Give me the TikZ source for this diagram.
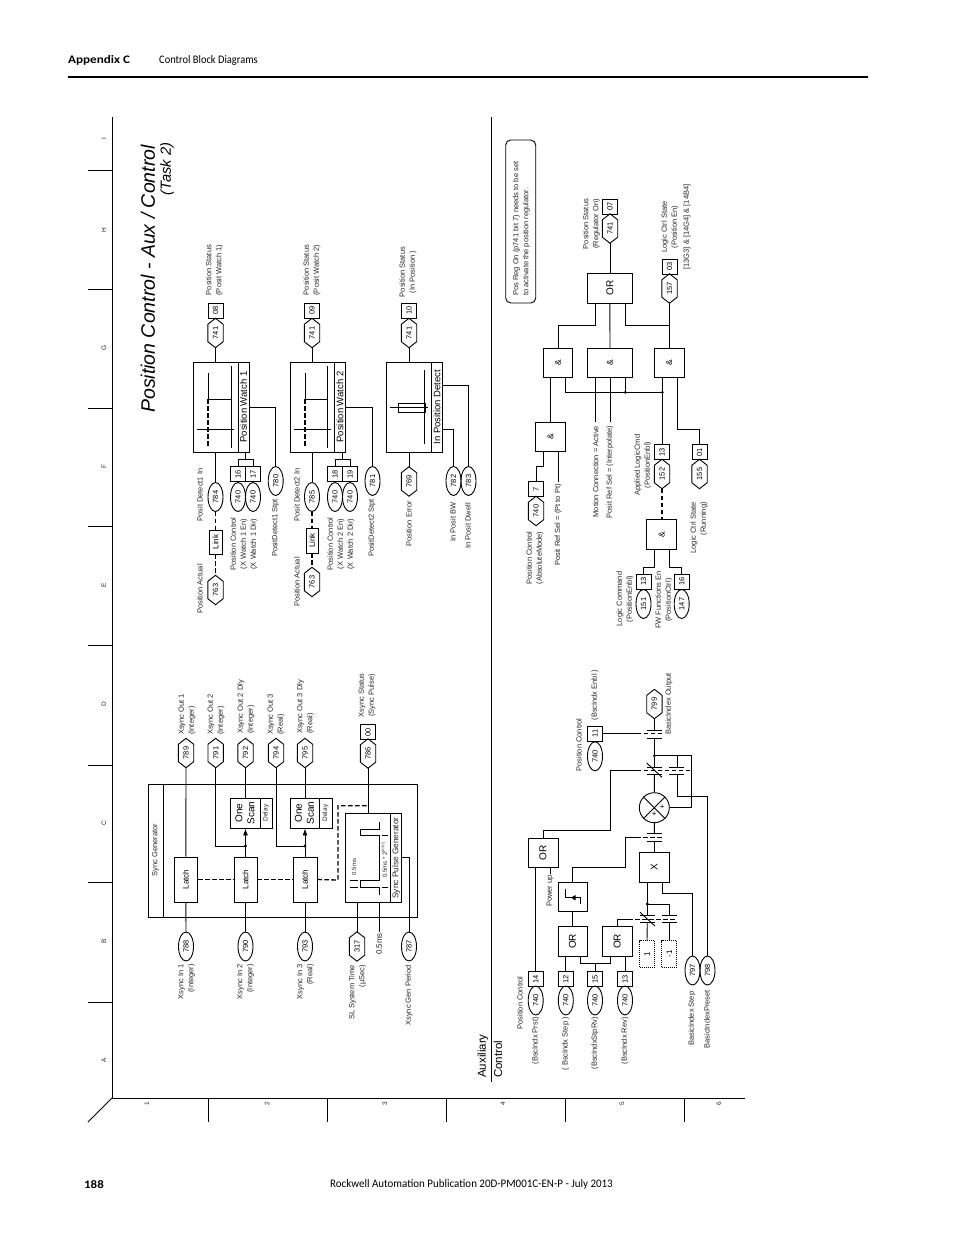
\documentclass[tikz,border=0pt]{standalone}
\usepackage{fontspec}
\usepackage{graphicx}
\setmainfont{Liberation Sans}
\newfontfamily\hdr{Carlito}
\usetikzlibrary{shapes.geometric,arrows.meta,calc}
\newcounter{labc}
\newcommand\fsz[2]{\fontsize{#1}{#2}\selectfont}
\tikzset{
  ln/.style={line width=0.9pt,line cap=butt,line join=miter},
  dashln/.style={line width=1.3pt,dash pattern=on 4.5pt off 2.5pt},
  frameln/.style={line width=1pt},
  sqbox/.style={draw,line width=0.9pt,rectangle,minimum width=15pt,minimum height=15pt,inner sep=0pt,font=\fsz{7.5}{9}},
  elbox/.style={draw,line width=0.9pt,ellipse,minimum width=15pt,minimum height=29pt,inner sep=0pt,font=\fsz{7.5}{9}},
  hexbox/.style={rectangle,minimum width=15pt,minimum height=29pt,inner sep=0pt,font=\fsz{7.5}{9}},
  blk/.style={draw,line width=0.9pt,rectangle,inner sep=0pt},
  dotbox/.style={draw,line width=1pt,rectangle,densely dotted,inner sep=0pt,minimum width=15pt,minimum height=26.5pt,font=\fsz{8}{9}},
  lbl/.style={rotate=90,align=center,inner sep=0pt,font=\fsz{7.5}{10},text=black!85},
  lblL/.style={align=left,anchor=west},
  lblR/.style={align=right,anchor=east},
  headtxt/.style={inner sep=0pt,anchor=west},
}
\newcommand\sq[3]{\node[sqbox](#1) at (#2) {\rotatebox{90}{#3}};}
\newcommand\el[3]{\node[elbox](#1) at (#2) {\rotatebox{90}{#3}};}
\newcommand\hx[3]{\node[hexbox](#1) at (#2) {\rotatebox{90}{#3}};
  \draw[ln] (#1.north) -- ([yshift=-6pt]#1.north east) -- ([yshift=6pt]#1.south east) -- (#1.south) -- ([yshift=6pt]#1.south west) -- ([yshift=-6pt]#1.north west) -- cycle;}
\newcommand\lab[3][]{\stepcounter{labc}\node[lbl,#1](L\arabic{labc}) at (#2) {#3};}
% name, x0, y0, x1, y1, font, text
\newcommand\bx[7]{\node[blk,minimum width=#4pt-#2pt,minimum height=#5pt-#3pt,font=\fsz{#6}{#6}](#1) at ({(#2+#4)/2},{(#3+#5)/2}) {\rotatebox{90}{#7}};}
\begin{document}
\begin{tikzpicture}[x=1pt,y=-1pt]
\useasboundingbox (0,0) rectangle (954,1235);
% page header / footer
\node[headtxt,font=\hdr\bfseries\fsz{11.5}{13}](h1) at (68,60.5) {\scalebox{1.14}[1]{Appendix C}};
\node[headtxt,font=\hdr\fsz{11.5}{13}](h2) at (159,60.5) {\scalebox{0.91}[1]{Control Block Diagrams}};
\coordinate (rl) at (68,77); \coordinate (rr) at (868,77);
\draw[line width=1.8pt] (rl) -- (rr);
\node[headtxt,font=\hdr\bfseries\fsz{11.5}{13}](f1) at (84,1184.5) {\scalebox{1.12}[1]{188}};
\node[headtxt,font=\hdr\fsz{11.5}{13}](f2) at (330,1184.5) {\scalebox{0.953}[1]{Rockwell Automation Publication 20D-PM001C-EN-P - July 2013}};
% frame
\coordinate (ftl) at (112,117); \coordinate (fbl) at (112,1098); \coordinate (fbr) at (745,1098);
\coordinate (dt) at (491.7,117); \coordinate (db) at (491.7,1082);
\draw[frameln] (ftl) -- (fbl) -- (fbr);
\draw[frameln] (dt) -- (db);
\foreach \yy in {170,289,408,526,645,765,882,1002} \draw[frameln] (88,\yy) -- (112,\yy);
\foreach \xx in {208,327,446,565,684} \draw[frameln] (\xx,1098) -- (\xx,1122);
\draw[frameln] (fbl) -- (88,1122);
\foreach \yy/\tx in {139/I,230/H,348/G,467/F,585/E,704/D,823/C,941/B,1060/A} {\lab[font=\fsz{6.5}{7}]{104,\yy}{\tx}}
\foreach \xx/\tx in {147/1,267/2,385/3,503/4,622/5,719/6} {\lab[font=\fsz{6.5}{7}]{\xx,1104}{\tx}}
% titles
\lab[font=\itshape\fsz{19.5}{22},text=black,lblL]{148,413}{Position Control - Aux / Control}
\lab[font=\itshape\fsz{14.7}{16},text=black]{167,169}{(Task 2)}
\lab[lblL,font=\fsz{11.5}{15},text=black]{483,1078}{Auxiliary}
\lab[lblL,font=\fsz{11.5}{15},text=black]{498,1078}{Control}

% ---------- Position Watch 1
\bx{pwa}{193}{362}{249}{452}{9}{}
\coordinate (pwad1) at (238,362); \coordinate (pwad2) at (238,452);
\draw[ln] (pwad1) -- (pwad2);
\lab[font=\fsz{9.5}{11},text=black]{243.5,407}{Position Watch 1}
\draw[ln] (208,373) -- (208,399) -- (231,399);
\draw[dashln] (208,399) -- (208,448);
\draw[ln] (231,366) -- (231,448);
\draw[ln] (197,429) -- (234,429);
\hx{hxa}{215.5,333}{741}
\sq{sa}{215.5,310.5}{08}
\draw[ln] (pwa.north -| hxa) -- (hxa.south);
\lab{214.5,270}{Position Status\\(Posit Watch 1)}
\el{e784}{215.5,497}{784}
\draw[ln] (pwa.south -| e784) -- (e784.north);
\bx{linka}{209}{530}{222}{554}{8}{Link}
\draw[dashln] (e784.south) -- (linka.north);
\hx{h763a}{215.5,590}{763}
\draw[dashln] (linka.south) -- (h763a.north);
\lab{200,495}{Posit Detect1 In}
\lab{200,589}{Position Actual}
\sq{s16}{238,474}{16} \sq{s17}{253,474}{17}
\el{e740a}{238,497}{740} \el{e740b}{253,497}{740}
\coordinate (bka) at (245.5,459.3);
\draw[ln] (pwa.south -| bka) -- (bka);
\draw[ln] (s16.north) |- (bka) -| (s17.north);
\lab{244,544}{Position Control\\(X Watch 1 En)\\(X Watch 1 Dir)}
\el{e780}{275.7,481}{780}
\draw[ln] (e780.north) |- (pwa.east |- 0,407);
\lab{275.5,528}{PositDetect1 Stpt}

% ---------- Position Watch 2
\bx{pwb}{290.5}{362}{345.7}{452}{9}{}
\coordinate (pwbd1) at (334.5,362); \coordinate (pwbd2) at (334.5,452);
\draw[ln] (pwbd1) -- (pwbd2);
\lab[font=\fsz{9.5}{11},text=black]{340,407}{Position Watch 2}
\draw[ln] (305,373) -- (305,399) -- (327.5,399);
\draw[dashln] (305,399) -- (305,448);
\draw[ln] (327.5,366) -- (327.5,448);
\draw[ln] (294,429) -- (331,429);
\hx{hxb}{312,333}{741}
\sq{sb}{312,310.5}{09}
\draw[ln] (pwb.north -| hxb) -- (hxb.south);
\lab{312,270}{Position Status\\(Posit Watch 2)}
\el{e785}{312,497}{785}
\draw[ln] (pwb.south -| e785) -- (e785.north);
\bx{linkb}{306}{528}{318}{553}{8}{Link}
\draw[dashln] (e785.south) -- (linkb.north);
\hx{h763b}{312,582}{763}
\draw[dashln] (linkb.south) -- (h763b.north);
\lab{297,495}{Posit Detect2 In}
\lab{297,582}{Position Actual}
\sq{s18}{335,474}{18} \sq{s19}{350,474}{19}
\el{e740c}{335,497}{740} \el{e740d}{350,497}{740}
\coordinate (bkb) at (342.5,459.3);
\draw[ln] (pwb.south -| bkb) -- (bkb);
\draw[ln] (s18.north) |- (bkb) -| (s19.north);
\lab{341,544}{Position Control\\(X Watch 2 En)\\(X Watch 2 Dir)}
\el{e781}{372.5,481}{781}
\draw[ln] (e781.north) |- (pwb.east |- 0,407);
\lab{372,528}{PositDetect2 Stpt}

% ---------- In Position Detect
\bx{ipd}{386.7}{362}{442.3}{452}{9}{}
\coordinate (ipdd1) at (431.7,362); \coordinate (ipdd2) at (431.7,452);
\draw[ln] (ipdd1) -- (ipdd2);
\lab[font=\fsz{9.5}{11},text=black]{437,407}{In Position Detect}
\draw[ln] (424,370) -- (424,444);
\draw[ln] (398,403) rectangle (425,412);
\draw[ln] (390,407) -- (428,407);
\hx{hxc}{409,333}{741}
\sq{sc}{409,310.5}{10}
\draw[ln] (ipd.north -| hxc) -- (hxc.south);
\lab{408,272}{Position Status\\(In Position )}
\hx{h769}{409,481.5}{769}
\draw[ln] (ipd.south -| h769) -- (h769.north);
\el{e782}{453.5,481}{782} \el{e783}{468.5,481}{783}
\draw[ln] (e783.north) |- (ipd.east |- 0,385);
\draw[ln] (e782.north) |- (ipd.east |- 0,429);
\lab{409,524}{Position Error}
\lab{453,522}{In Posit BW}
\lab{468,526}{In Posit Dwell}

% ---------- Sync Generator
\bx{sg}{148}{784}{417}{917}{8}{}
\coordinate (sgd1) at (163,784); \coordinate (sgd2) at (163,917);
\draw[ln] (sgd1) -- (sgd2);
\lab{155.5,850}{Sync Generator}
\hx{h789}{186,753}{789} \hx{h791}{215.7,753}{791} \hx{h792}{245.5,753}{792}
\hx{h794}{276,753}{794} \hx{h795}{305,753}{795} \hx{h786}{368,753.5}{786}
\sq{s00}{368,732}{00}
\bx{l1}{174}{857}{197.7}{902}{8}{Latch}
\bx{l2}{234}{857}{257}{902}{8}{Latch}
\bx{l3}{293}{857}{317}{902}{8}{Latch}
\el{e788}{186,946.5}{788} \el{e790}{245.5,946.5}{790} \el{e793}{305,946.5}{793}
\draw[ln] (h789.south) -- (l1.north);
\draw[ln] (l1.south) -- (e788.north);
\draw[ln] (l2.south) -- (e790.north);
\draw[ln] (l3.south) -- (e793.north);
\bx{osa}{230}{798}{272}{828}{8}{}
\bx{osb}{290}{798}{332}{828}{8}{}
\coordinate (osa1) at (260,798); \coordinate (osa2) at (260,828);
\coordinate (osb1) at (319,798); \coordinate (osb2) at (319,828);
\draw[ln] (osa1) -- (osa2); \draw[ln] (osb1) -- (osb2);
\lab[font=\fsz{10}{12},text=black]{245,813}{One\\Scan}
\lab[font=\fsz{10}{12},text=black]{304.5,813}{One\\Scan}
\lab[font=\fsz{6.5}{7}]{266,813}{Delay}
\lab[font=\fsz{6.5}{7}]{325.5,813}{Delay}
\draw[ln] (h792.south) -- (h792.south |- osa.north);
\draw[ln] (h795.south) -- (h795.south |- osb.north);
\coordinate (ja) at (245.5,846); \coordinate (jb) at (305,846);
\draw[ln,-{Latex[length=7pt,width=5pt]}] (l2.north) -- (l2.north |- osa.south);
\draw[ln,-{Latex[length=7pt,width=5pt]}] (l3.north) -- (l3.north |- osb.south);
\draw[ln] (h791.south) |- (ja);
\draw[ln] (h794.south) |- (jb);
\fill (ja) circle (1.6pt); \fill (jb) circle (1.6pt);
\coordinate (d1) at (338,880); \coordinate (d2) at (338,805.7); \coordinate (d3) at (368,805.7);
\draw[dashln] (l1.east) -- (l2.west);
\draw[dashln] (l2.east) -- (l3.west);
\draw[dashln] (l3.east) -- (d1) -- (d2) -- (d3);
\bx{spg}{345.7}{813}{401.7}{902}{8}{}
\coordinate (spg1) at (390.7,813); \coordinate (spg2) at (390.7,902);
\draw[ln] (spg1) -- (spg2);
\lab[font=\fsz{8.3}{10}]{396.2,858}{Sync Pulse Generator}
\draw[ln] (h786.south) -- (h786.south |- spg.north);
\draw[ln] (379,822) -- (379,829) -- (360,829) -- (360,835) -- (379,835) -- (379,880) -- (360,880) -- (360,887) -- (379,887) -- (379,895);
\draw[ln] (382,835) -- (388,835);
\draw[ln] (382,887) -- (388,887);
\draw[ln] (349.5,880.5) -- (358,880.5);
\draw[ln] (349.5,887) -- (358,887);
\lab[font=\fsz{6}{7}]{354,867}{0.5ms}
\lab[font=\fsz{6}{7}]{384.5,860}{0.5ms * 2\raisebox{2.5pt}{\fsz{3.5}{4}[P787]}}
\hx{h317}{357,946.5}{317}
\coordinate (hs1) at (379,902); \coordinate (hs2) at (379,932);
\draw[ln] (spg.south -| h317) -- (h317.north);
\draw[ln] (hs1) -- (hs2);
\lab[font=\fsz{8}{9}]{379,944}{0.5ms}
\el{e787}{409,946.5}{787}
\draw[ln] (e787.north) |- (spg.east |- 0,857);
% labels
\lab[lblL]{187,735}{Xsync Out 1\\(Integer)}
\lab[lblL]{216,735}{Xsync Out 2\\(Integer)}
\lab[lblL]{246,734}{Xsync Out 2 Dly\\(Integer)}
\lab[lblL]{276,735}{Xsync Out 3\\(Real)}
\lab[lblL]{305.5,734}{Xsync Out 3 Dly\\(Real)}
\lab{367,695.5}{Xsync Status\\(Sync Pulse)}
\lab[lblR]{186.5,964}{Xsync In 1\\(Integer)}
\lab[lblR]{245.5,964}{Xsync In 2\\(Integer)}
\lab[lblR]{305.5,964}{Xsync In 3\\(Real)}
\lab[lblR]{357.5,965}{SL System Time\\(µSec)}
\lab[lblR]{409,965}{Xsync Gen Period}

% ---------- Position regulator
\node[draw,line width=0.9pt,rounded corners=5pt,minimum width=30pt,minimum height=163pt,inner sep=0pt](note) at (520.7,221.5) {};
\lab[lblL]{521.5,296}{Pos Reg On  (p741 bit 7) needs to be set\\to activate the position regulator.}
\hx{h741r}{610,228.5}{741}
\sq{s07}{610,206.5}{07}
\bx{orb}{587}{273}{632.7}{303}{10}{OR}
\draw[ln] (h741r.south) -- (orb.north -| h741r);
\lab{591.5,224}{Position Status\\(Regulator On)}
\bx{and1}{543.3}{348.3}{572.7}{377.7}{8.5}{\&}
\bx{and2}{587.3}{348.3}{632.7}{377.7}{8.5}{\&}
\bx{and3}{654.3}{348.3}{684.3}{377.7}{8.5}{\&}
\hx{h157}{669.5,288.5}{157}
\sq{s03}{669.5,266.5}{03}
\lab{670,227}{Logic Ctrl State\\(Position En)}
\lab{687,227}{[13G3] \& [14G4] \& [14B4]}
\coordinate (ora) at (595.7,303); \coordinate (orb2) at (625.3,303);
\coordinate (orc) at (595.7,325); \coordinate (ord) at (625.3,325);
\coordinate (ore) at (558.3,325);
\draw[ln] (ora) -- (orc) -- (ore) -- (ore |- and1.north);
\draw[ln] (orb.south) -- (and2.north);
\draw[ln] (orb2) -- (ord) -- (ord -| h157);
\draw[ln] (h157.south) -- (h157.south |- and3.north);
\bx{and4}{535.7}{422.3}{565.3}{451.7}{8.5}{\&}
\coordinate (a1a) at (550.7,377.7); \coordinate (a1b) at (565.7,377.7);
\coordinate (a2a) at (595.7,377.7); \coordinate (a2c) at (625.3,377.7);
\coordinate (a3a) at (662.3,377.7); \coordinate (a3b) at (677,377.7);
\coordinate (ma) at (595.7,422); \coordinate (mb) at (610,422);
\draw[ln] (a1a) -- (a1a |- and4.north);
\draw[ln] (a2a) -- (ma);
\draw[ln] (and2.south) -- (mb);
\coordinate (j1) at (625.3,392.3); \coordinate (j2) at (662.3,392.3);
\draw[ln] (a1b) |- (j2);
\draw[ln] (a2c) -- (j1);
\fill (j1) circle (1.6pt); \fill (j2) circle (1.6pt);
\hx{h152}{662,474}{152}
\sq{s13a}{662,452}{13}
\draw[ln] (a3a) -- (s13a.north -| a3a);
\lab[lblR]{595.7,425.7}{Motion Connection  = Active}
\lab[lblR]{610,425.7}{Posit Ref Sel = (Interpolate)}
\hx{h155}{699.5,474}{155}
\sq{s01}{699.5,452}{01}
\coordinate (r1) at (677,429.3);
\draw[ln] (a3b) -- (r1) -| (s01.north);
\lab{643,465}{Applied LogicCmd\\(PositionEnbl)}
\lab[lblR]{699,502}{Logic Ctrl State\\(Running)}
\bx{and5}{646.7}{519.3}{676.7}{549.3}{8.5}{\&}
\draw[dashln] (h152.south) -- (h152.south |- and5.north);
\sq{s13b}{643.5,581.8}{13} \sq{s16b}{681.7,581.8}{16}
\el{e151}{643.5,604}{151} \el{e147}{681.7,604}{147}
\coordinate (p1) at (654.3,549.3); \coordinate (p2) at (654.3,567.3);
\coordinate (p3) at (669.3,549.3); \coordinate (p4) at (669.3,567.3);
\draw[ln] (p1) -- (p2) -| (s13b.north);
\draw[ln] (p3) -- (p4) -| (s16b.north);
\lab{625,599}{Logic Command\\(PositionEnbl)}
\lab{664,600}{FW Functions En\\(PositionCtrl)}
\sq{s7}{536,489}{7}
\hx{h740a}{536,511}{740}
\coordinate (q1) at (543.3,451.7); \coordinate (q2) at (543.3,466.7);
\draw[ln] (q1) -- (q2) -| (s7.north);
\coordinate (q3) at (558.3,451.7); \coordinate (q4) at (558.3,481.7);
\draw[ln] (q3) -- (q4);
\lab{535,558}{Position Control\\(AbsoluteMode)}
\lab[lblR]{558.3,484}{Posit Ref Sel = (Pt to Pt)}

% ---------- Auxiliary control
\sq{s14}{535.7,979}{14} \sq{s12}{565.8,979}{12} \sq{s15}{595,979}{15} \sq{s13c}{625,979}{13}
\el{e740e}{535.7,1000.5}{740} \el{e740f}{565.8,1000.5}{740} \el{e740g}{595,1000.5}{740} \el{e740h}{625,1000.5}{740}
\lab{520,1003}{Position Control}
\lab[lblR]{535.7,1017}{(BscIndx Prst)}
\lab[lblR]{565.8,1017}{( BscIndx Step )}
\lab[lblR]{595,1017}{(BscIndxStpRv)}
\lab[lblR]{625,1017}{(BscIndx Rev)}
\bx{or1}{528}{838}{558}{867}{10}{OR}
\bx{pu}{558}{882.3}{587}{911.7}{8}{}
\bx{or2}{558}{926.7}{587}{956}{10}{OR}
\bx{or3}{602.3}{926.7}{632.3}{956}{10}{OR}
\draw[ln] (s14.north) -- (s14.north |- or1.south);
\draw[ln] (pu.south -| 572.5,0) -- (or2.north -| 572.5,0);
\draw[ln] (s12.north) -- (s12.north |- or2.south);
\draw[ln] (s13c.north) -- (s13c.north |- or3.south);
\coordinate (m1) at (580.7,956); \coordinate (m2) at (610,956); \coordinate (m3) at (595,963.3);
\draw[ln] (m1) |- (m3) -| (m2);
\draw[ln] (m3) -- (s15.north);
% power up symbol
\draw[ln] (565,889.3) -- (565,897.7) -- (580.7,897.7) -- (580.7,904.3);
\fill (571,897.7) -- (575.5,895) -- (575.5,900.4) -- cycle;
\coordinate (pw1) at (550,867); \coordinate (pw2) at (550,874);
\draw[ln] (pw1) -- (pw2);
\lab[lblR]{550,875}{Power up}
% X block and summing
\bx{xb}{639}{852.5}{669.3}{882.3}{10}{X}
\node[draw,circle,line width=0.9pt,minimum size=30pt,inner sep=0pt](sum) at (654.3,807.7) {};
\draw[ln] (sum.45) -- (sum.225);
\draw[ln] (sum.135) -- (sum.315);
\node[inner sep=0pt,font=\fsz{8}{9}](pl1) at (662.2,807.2) {+};
\node[inner sep=0pt,font=\fsz{8}{9}](pl2) at (654.3,814) {+};
\hx{h799}{654.4,704}{799}
\coordinate (c1t) at (654.4,730); \coordinate (c1b) at (654.4,738);
\coordinate (c2t) at (654.4,767); \coordinate (c2b) at (654.4,774);
\coordinate (jt) at (654.4,755.7);
\draw[ln] (h799.south) -- (c1t);
\draw[ln] (c1b) -- (c2t);
\draw[ln] (c2b) -- (sum.north);
\draw[ln] (647,730) -- (662,730);
\draw[ln] (647,738) -- (662,738);
\draw[ln] (647,767) -- (662,767);
\draw[ln] (647,774) -- (662,774);
\draw[ln] (646.7,763) -- (662,777.3);
\fill (jt) circle (1.6pt);
\coordinate (cc) at (691.7,755.7); \coordinate (cc2) at (691.7,807.7);
\draw[ln] (jt) -- (cc) -- (cc2) -- (sum.east);
\coordinate (n1) at (677,755.7); \coordinate (n2) at (677,767); \coordinate (n3) at (677,774); \coordinate (n4) at (677,796);
\draw[ln] (n1) -- (n2);
\draw[ln] (669,767) -- (684.3,767);
\draw[ln] (669,774) -- (684.3,774);
\el{e798}{707.5,970.5}{798} \el{e797}{692.5,970.5}{797}
\draw[ln] (n3) -- (n4) -| (e798.north);
% OR1 to contact
\coordinate (o1) at (543,838); \coordinate (o2) at (543,830); \coordinate (o3) at (610,830); \coordinate (o4) at (610,770.3); \coordinate (o5) at (636.7,770.3); \coordinate (o6) at (690,770.3);
\draw[ln] (o1) -- (o2) -- (o3) -- (o4) -- (o5);
\draw[dashln] (o5) -- (o6);
% enable contact
\sq{s11}{595,733.7}{11}
\el{e740i}{595,756.3}{740}
\coordinate (en1) at (636.7,733.7); \coordinate (en2) at (664,733.7);
\draw[ln] (s11.east) -- (en1);
\draw[dashln] (en1) -- (en2);
\lab{579,745}{Position Control}
\lab{595,695}{(BscIndx Enbl )}
\lab{669,704}{BasicIndex Output}
% lower contact
\draw[ln] (sum.south) -- (654.4,833);
\draw[ln] (654.4,841.7) -- (xb.north -| 654.4,0);
\draw[ln] (647,833) -- (662,833);
\draw[ln] (647,841.7) -- (662,841.7);
\coordinate (lc1) at (636,837.5); \coordinate (lc2) at (664,837.5); \coordinate (lc3) at (625,837.5); \coordinate (lc4) at (625,867); \coordinate (lc5) at (572.5,867);
\draw[dashln] (lc1) -- (lc2);
\draw[ln] (lc1) -- (lc3) -- (lc4) -- (lc5) -- (pu.north -| lc5);
% direction contacts
\node[dotbox](d1box) at (647,954) {\rotatebox{90}{1}};
\node[dotbox](d2box) at (669.3,954) {\rotatebox{90}{-1}};
\coordinate (xj) at (647.3,904); \coordinate (xj2) at (669.3,904);
\draw[ln] (xb.south -| xj) -- (647.3,915);
\fill (xj) circle (1.6pt);
\draw[ln] (xj) -- (xj2) -- (669.3,915);
\draw[ln] (640,915) -- (655,915);
\draw[ln] (640,922.3) -- (655,922.3);
\draw[ln] (661.7,915) -- (676.7,915);
\draw[ln] (661.7,922.3) -- (676.7,922.3);
\draw[ln] (640,912.3) -- (655,926);
\draw[ln] (647.3,922.3) -- (d1box.north);
\draw[ln] (669.3,922.3) -- (d2box.north);
\coordinate (or3a) at (617.7,926.7); \coordinate (or3b) at (617.7,919.3); \coordinate (or3c) at (628.3,919.3); \coordinate (or3d) at (677,919.3);
\draw[ln] (or3a) -- (or3b) -- (or3c);
\draw[dashln] (or3c) -- (or3d);
\coordinate (xs1) at (662.3,882.3); \coordinate (xs2) at (662.3,893.3);
\draw[ln] (xs1) -- (xs2) -| (e797.north);
\lab[lblR]{692,991.5}{BasicIndex Step}
\lab[lblR]{707,990}{BasicIndexPreset}
\end{tikzpicture}
\end{document}
